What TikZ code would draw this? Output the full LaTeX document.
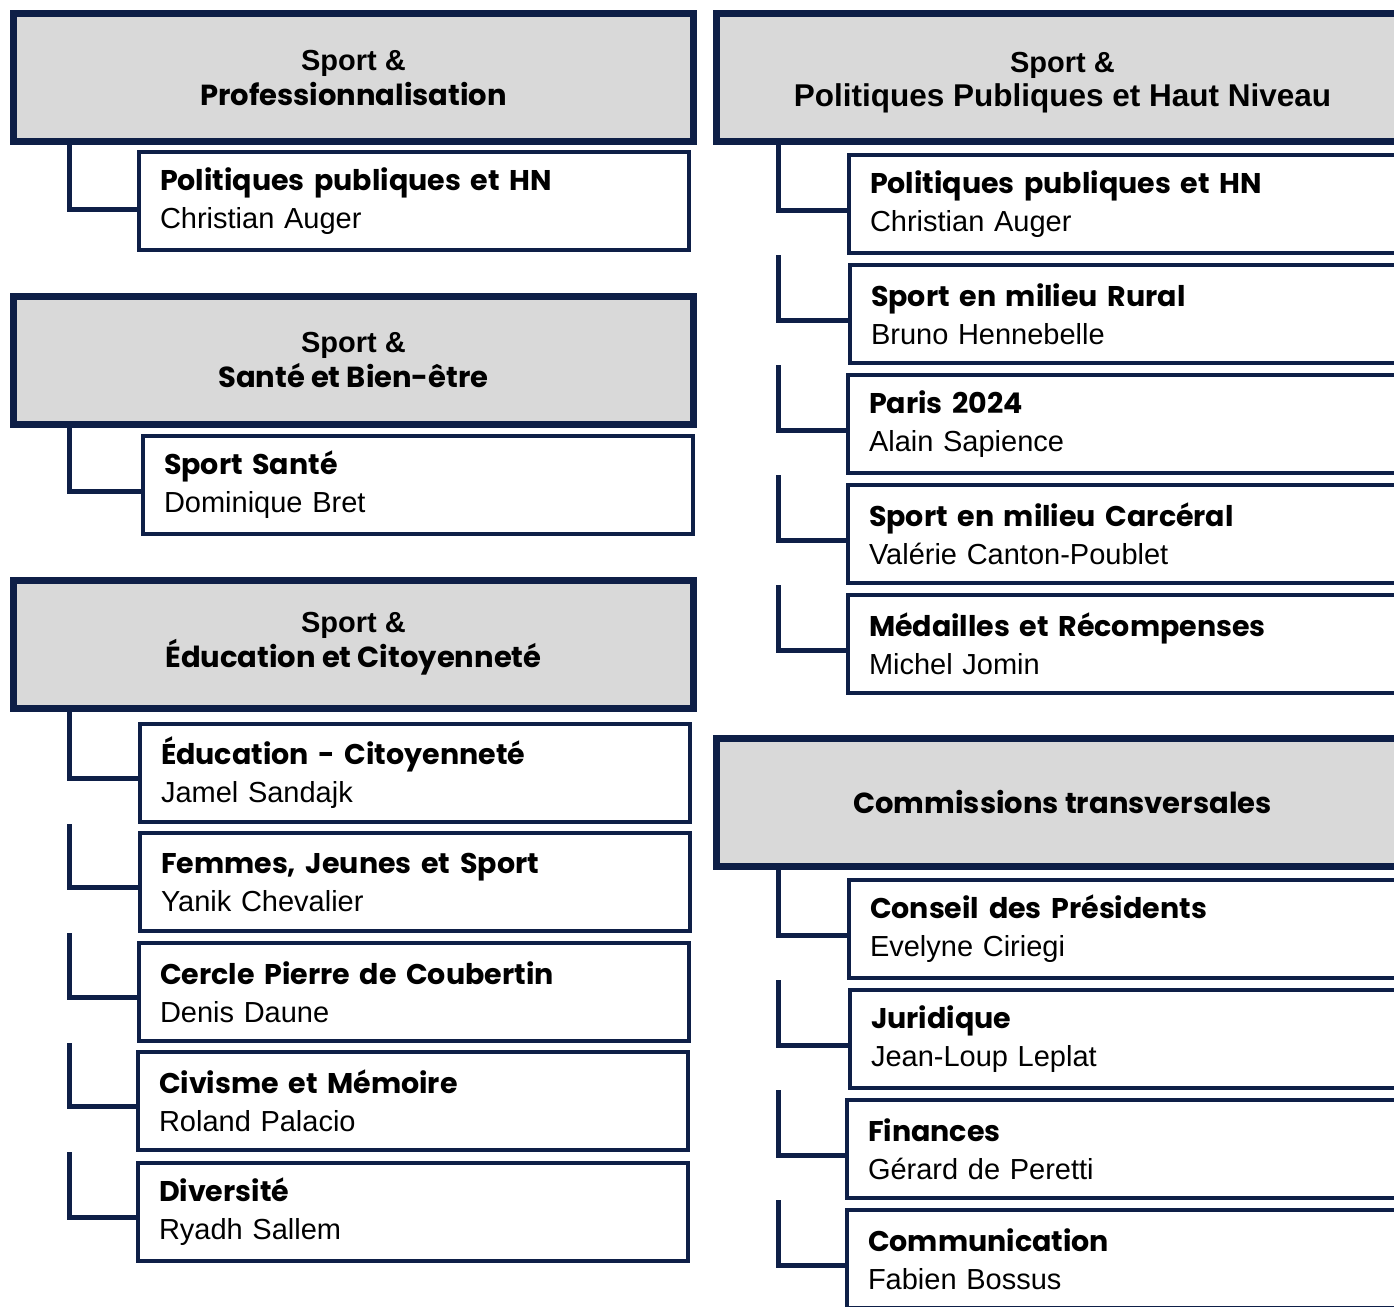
\documentclass[tikz,border=0pt]{standalone}
\usepackage{fontspec}
\setmainfont{Liberation Sans}
\newfontfamily\poppins{Poppins}
\definecolor{navy}{HTML}{0E1F47}
\definecolor{headgray}{HTML}{D9D9D9}
\newcommand{\boxtitle}[1]{{\poppins\bfseries\fontsize{28.5}{38}\selectfont #1}}
\newcommand{\headline}[2]{{\bfseries Sport \&}\\{\poppins\bfseries #1}#2}
\tikzset{
  headbox/.style={draw=navy,fill=headgray,line width=7pt,minimum width=680pt,minimum height=128pt,
    align=center,font=\fontsize{29}{35}\selectfont},
  memberbox/.style={draw=navy,fill=white,line width=4pt,minimum width=550pt,minimum height=98pt,
    inner xsep=21pt,text width=508pt,align=left,font=\fontsize{29}{38}\selectfont},
  link/.style={draw=navy,line width=5pt}
}
\begin{document}
\begin{tikzpicture}[x=1pt,y=-1pt]
        \useasboundingbox (0,0) rectangle (1394,1306);
        \clip (0,0) rectangle (1394,1306);
        \coordinate (lx) at (69,0);
        \coordinate (rx) at (778,0);
        % left column
        \node[headbox] (pro) at (353.5,77.5) {\headline{Professionnalisation}{}};
        \node[memberbox] (pro1) at (414,201) {\boxtitle{Politiques publiques et HN}\\Christian Auger};
        \node[headbox] (sante) at (353.5,360) {\headline{Santé et Bien-être}{}};
        \node[memberbox] (sante1) at (418,485) {\boxtitle{Sport Santé}\\Dominique Bret};
        \node[headbox] (edu) at (353.5,644) {\headline{Éducation et Citoyenneté}{}};
        \node[memberbox] (edu1) at (415,773) {\boxtitle{Éducation - Citoyenneté}\\Jamel Sandajk};
        \node[memberbox] (edu2) at (415,882) {\boxtitle{Femmes, Jeunes et Sport}\\Yanik Chevalier};
        \node[memberbox] (edu3) at (414,992) {\boxtitle{Cercle Pierre de Coubertin}\\Denis Daune};
        \node[memberbox] (edu4) at (413,1101) {\boxtitle{Civisme et Mémoire}\\Roland Palacio};
        \node[memberbox] (edu5) at (413,1212) {\boxtitle{Diversité}\\Ryadh Sallem};
        % right column
        \node[headbox,minimum width=692pt] (pol) at (1062.5,77.5)
          {\raisebox{-5pt}[\height][\depth]{\begin{tabular}{@{}c@{}}{\bfseries Sport \&}\\{\bfseries\fontsize{31.5}{35}\selectfont Politiques Publiques et Haut Niveau}\end{tabular}}};
        \node[memberbox] (pol1) at (1124,204) {\boxtitle{Politiques publiques et HN}\\Christian Auger};
        \node[memberbox] (pol2) at (1125,314) {\boxtitle{Sport en milieu Rural}\\Bruno Hennebelle};
        \node[memberbox] (pol3) at (1123,424) {\boxtitle{Paris 2024}\\Alain Sapience};
        \node[memberbox] (pol4) at (1123,534) {\boxtitle{Sport en milieu Carcéral}\\Valérie Canton-Poublet};
        \node[memberbox] (pol5) at (1123,644) {\boxtitle{Médailles et Récompenses}\\Michel Jomin};
        \node[headbox,minimum width=692pt] (com) at (1062.5,802) {\poppins\bfseries Commissions transversales};
        \node[memberbox] (com1) at (1124,929) {\boxtitle{Conseil des Présidents}\\Evelyne Ciriegi};
        \node[memberbox] (com2) at (1125,1039) {\boxtitle{Juridique}\\Jean-Loup Leplat};
        \node[memberbox] (com3) at (1122,1149) {\boxtitle{Finances}\\Gérard de Peretti};
        \node[memberbox] (com4) at (1122,1259) {\boxtitle{Communication}\\Fabien Bossus};
        % connectors
        \draw[link] (pro.south -| lx) |- ([yshift=-8pt]pro1.west);
        \draw[link] (sante.south -| lx) |- ([yshift=-6pt]sante1.west);
        \draw[link] (edu.south -| lx) |- ([yshift=-5pt]edu1.west);
        \foreach \a/\b in {edu1/edu2,edu2/edu3,edu3/edu4,edu4/edu5}
          \draw[link] (\a.south -| lx) |- ([yshift=-5pt]\b.west);
        \draw[link] (pol.south -| rx) |- ([yshift=-6pt]pol1.west);
        \foreach \a/\b in {pol1/pol2,pol2/pol3,pol3/pol4,pol4/pol5}
          \draw[link] (\a.south -| rx) |- ([yshift=-6pt]\b.west);
        \draw[link] (com.south -| rx) |- ([yshift=-6pt]com1.west);
        \foreach \a/\b in {com1/com2,com2/com3,com3/com4}
          \draw[link] (\a.south -| rx) |- ([yshift=-6pt]\b.west);
      \end{tikzpicture}
\end{document}
